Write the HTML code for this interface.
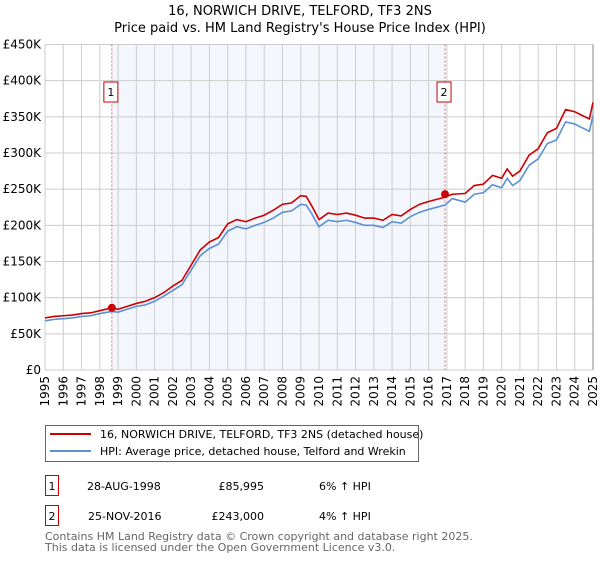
<!DOCTYPE html>
<html><head><meta charset="utf-8"><style>
body{margin:0;background:#fff;font-family:"DejaVu Sans","Liberation Sans",sans-serif;}
svg text{font-family:"DejaVu Sans","Liberation Sans",sans-serif;}
</style></head><body>
<svg id="c" width="600" height="560" xmlns="http://www.w3.org/2000/svg">
<text x="300" y="15" text-anchor="middle" font-size="13">16, NORWICH DRIVE, TELFORD, TF3 2NS</text>
<text x="300" y="32" text-anchor="middle" font-size="13">Price paid vs. HM Land Registry's House Price Index (HPI)</text>
<g id="plot"></g>
<g>
<rect x="45.5" y="425.5" width="373" height="36" fill="#fff" stroke="#666"/>
<line x1="50" y1="434" x2="91" y2="434" stroke="#cc0000" stroke-width="2"/>
<text x="100" y="438" font-size="11">16, NORWICH DRIVE, TELFORD, TF3 2NS (detached house)</text>
<line x1="50" y1="451" x2="91" y2="451" stroke="#5b8fd6" stroke-width="2"/>
<text x="100" y="455" font-size="11">HPI: Average price, detached house, Telford and Wrekin</text>
</g>
<g>
<rect x="45.5" y="475.5" width="13" height="20" fill="#fff" stroke="#cc0000"/>
<text x="52" y="490" text-anchor="middle" font-size="11">1</text>
<text x="87" y="490" font-size="11">28-AUG-1998</text>
<text x="264" y="490" text-anchor="end" font-size="11">£85,995</text>
<text x="319" y="490" font-size="11">6% ↑ HPI</text>
</g>
<g>
<rect x="45.5" y="505.5" width="13" height="20" fill="#fff" stroke="#cc0000"/>
<text x="52" y="520" text-anchor="middle" font-size="11">2</text>
<text x="88" y="520" font-size="11">25-NOV-2016</text>
<text x="264" y="520" text-anchor="end" font-size="11">£243,000</text>
<text x="319" y="520" font-size="11">4% ↑ HPI</text>
</g>
<text x="45" y="540" font-size="11" fill="#666">Contains HM Land Registry data © Crown copyright and database right 2025.</text>
<text x="45" y="551" font-size="11" fill="#666">This data is licensed under the Open Government Licence v3.0.</text>
</svg>
<script>
const years=[1995,1995.5,1996,1996.5,1997,1997.5,1998,1998.66,1999,1999.5,2000,2000.5,2001,2001.5,2002,2002.5,2003,2003.5,2004,2004.5,2005,2005.5,2006,2006.5,2007,2007.5,2008,2008.5,2009,2009.3,2009.6,2010,2010.5,2011,2011.5,2012,2012.5,2013,2013.5,2014,2014.5,2015,2015.5,2016,2016.9,2017.3,2018,2018.5,2019,2019.5,2020,2020.3,2020.6,2021,2021.5,2022,2022.5,2023,2023.5,2024,2024.4,2024.8,2025];
const hpiValues=[68,70,71,72,74,75,78,81,80,84,88,90,95,102,110,118,138,158,168,174,192,198,195,200,204,210,218,220,229,228,216,198,207,205,207,204,200,200,197,205,203,212,218,222,228,237,232,243,245,256,252,265,255,262,283,292,313,318,343,340,335,330,352,345];
const priceValues=[72,74,75,76,78,79,82,86,84,88,92,95,100,107,116,124,145,166,177,183,202,208,205,210,214,221,229,231,241,240,227,208,217,215,217,214,210,210,207,215,213,222,229,233,239,243,244,255,257,269,265,278,268,275,297,306,328,334,360,357,352,347,370,362];
const yTicks=[0,50,100,150,200,250,300,350,400,450];
const yTickLabels=["£0","£50K","£100K","£150K","£200K","£250K","£300K","£350K","£400K","£450K"];
const xTicks=[1995,1996,1997,1998,1999,2000,2001,2002,2003,2004,2005,2006,2007,2008,2009,2010,2011,2012,2013,2014,2015,2016,2017,2018,2019,2020,2021,2022,2023,2024,2025];
const sales=[{label:"1",year:1998.66,value:86},{label:"2",year:2016.9,value:243}];
const X0=45,X1=593,Y0=370,Y1=44.5;
const xs=y=>X0+(y-1995)/30*(X1-X0);
const ys=v=>Y0-v/450*(Y0-Y1);
const NS="http://www.w3.org/2000/svg";
const g=document.getElementById('plot');
function mk(t,a,p){const e=document.createElementNS(NS,t);for(const k in a)e.setAttribute(k,a[k]);(p||g).appendChild(e);return e;}
const shade=mk('rect',{x:xs(sales[0].year),y:Y1,width:xs(sales[1].year)-xs(sales[0].year),height:Y0-Y1,fill:'#eef3fc',opacity:0.7});


yTicks.forEach((v,i)=>{
 const l=mk('line',{x1:X0,x2:X1,y1:ys(v),y2:ys(v),stroke:'#ccc'});
 
 
 const t=mk('text',{x:X0-4,y:ys(v)+4,'text-anchor':'end','font-size':'12'});
 t.textContent=yTickLabels[i];
 
 
});
xTicks.forEach(y=>{
 const l=mk('line',{x1:xs(y),x2:xs(y),y1:Y1,y2:Y0,stroke:'#ccc'});
 
 
 const t=mk('text',{x:0,y:0,'text-anchor':'end','font-size':'12',transform:`translate(${xs(y)+4},${Y0+6}) rotate(-90)`});
 t.textContent=y;
 
 
});
const bl=mk('line',{x1:X1,x2:X1,y1:Y1,y2:Y0,stroke:'#888'});


sales.forEach(s=>{
 const l=mk('line',{x1:xs(s.year),x2:xs(s.year),y1:Y1,y2:Y0,stroke:'#e06666','stroke-dasharray':'2,2'});
 
 
 const r=mk('rect',{x:xs(s.year)-8,y:82,width:14,height:20,fill:'#fff',stroke:'#cc0000'});
 
 
 const t=mk('text',{x:xs(s.year)-1,y:96,'text-anchor':'middle','font-size':'11'});
 t.textContent=s.label;
 
 
});
const p1=mk('polyline',{points:years.map((y,i)=>xs(y)+','+ys(hpiValues[i])).join(' '),fill:'none',stroke:'#5b8fd6','stroke-width':'1.6'});


const p2=mk('polyline',{points:years.map((y,i)=>xs(y)+','+ys(priceValues[i])).join(' '),fill:'none',stroke:'#cc0000','stroke-width':'1.6'});


sales.forEach(s=>{
 const c=mk('circle',{cx:xs(s.year),cy:ys(s.value),r:4,fill:'#cc0000'});
 
 
});
</script>
</body></html>
